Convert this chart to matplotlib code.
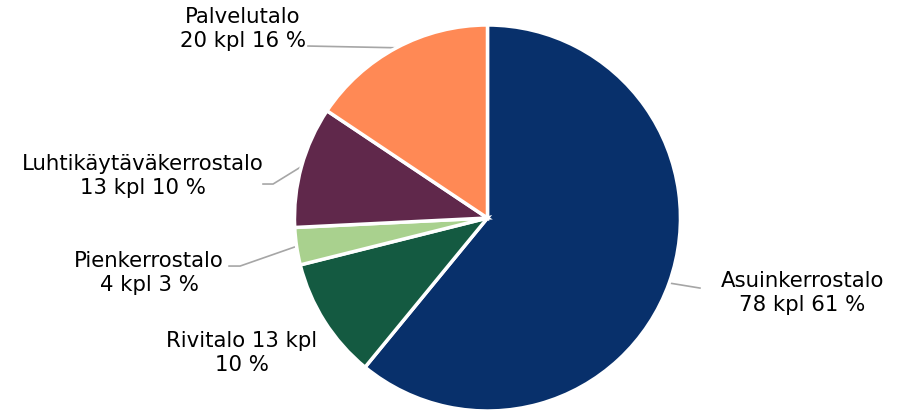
import numpy as np
import matplotlib.pyplot as plt

# Building types and counts
labels = ["Asuinkerrostalo", "Rivitalo", "Pienkerrostalo",
          "Luhtikäytäväkerrostalo", "Palvelutalo"]
counts = [78, 13, 4, 13, 20]
colors = ["#08306B", "#145A41", "#A9D18E", "#60284B", "#FF8955"]

total = sum(counts)
shares = [round(100 * c / total) for c in counts]

fig = plt.figure(figsize=(9.02, 4.11), dpi=100)
ax = fig.add_axes([0, 0, 1, 1])

wedges, _ = ax.pie(counts, colors=colors, startangle=90, counterclock=False,
                   radius=1.0, wedgeprops=dict(edgecolor="white", linewidth=2.5))

ax.set_xlim(-2.526, 2.148)
ax.set_ylim(-1.0, 1.1295)
ax.set_aspect("auto")
ax.axis("off")

# label text positions and leader line points (after the wedge anchor)
label_pos = [(1.630, -0.389), (-1.272, -0.699), (-1.754, -0.285),
             (-1.785, 0.218), (-1.267, 0.979)]
leaders = [[(1.101, -0.363)], None, [(-1.282, -0.249), (-1.339, -0.249)],
           [(-1.111, 0.176), (-1.163, 0.176)], [(-0.930, 0.891)]]

for w, name, n, pct, pos, lead in zip(wedges, labels, counts, shares,
                                      label_pos, leaders):
    if name == "Rivitalo":
        text = f"{name} {n} kpl\n{pct} %"
    else:
        text = f"{name}\n{n} kpl {pct} %"
    ax.text(pos[0], pos[1], text, ha="center", va="center", fontsize=15.3,
            color="#000000", linespacing=1.3)
    if lead:
        mid = np.deg2rad((w.theta1 + w.theta2) / 2)
        pts = [(np.cos(mid), np.sin(mid))] + lead
        xs, ys = zip(*pts)
        ax.plot(xs, ys, color="#A6A6A6", linewidth=1.2, zorder=0.5)

fig.savefig("out.png", dpi=100)
